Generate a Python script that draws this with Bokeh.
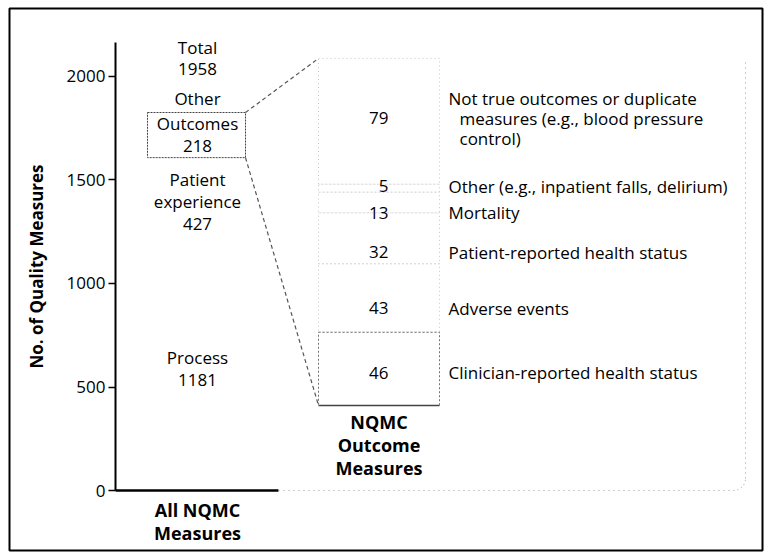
from bokeh.plotting import figure
from bokeh.models import Range1d, LinearAxis, FixedTicker, ColumnDataSource
from bokeh.core.properties import value
from bokeh.embed import file_html
from bokeh.resources import INLINE

# ---------------- data ----------------
all_categories = ["Process", "Patient\nexperience", "Outcomes", "Other"]
all_counts = [1181, 427, 218, 132]
all_show_count = [True, True, True, False]
total_label = "Total"

outcome_categories = [
    "Clinician-reported health status",
    "Adverse events",
    "Patient-reported health status",
    "Mortality",
    "Other (e.g., inpatient falls, delirium)",
    "Not true outcomes or duplicate\nmeasures (e.g., blood pressure\ncontrol)",
]
outcome_counts = [46, 43, 32, 13, 5, 79]
outcome_label_nudge = [4, 10, 14, 10, -2, -3]   # screen px, to keep labels apart

y_ticks = [0, 500, 1000, 1500, 2000]
column_titles = ["All NQMC\nMeasures", "NQMC\nOutcome\nMeasures"]
y_title = "No. of Quality Measures"

FONT = "Open Sans"

# ---------------- layout constants ----------------
W, H = 770, 559
AXIS_X = 115
LEFT_CX = 197          # centre of left column
BOX_L, BOX_R = 147, 245
RC_L, RC_R = 318, 439  # right column edges
RC_CX = (RC_L + RC_R) / 2
NUM_X = 388
LAB_X = 448
FRAME_R = 745
CORNER = 12

main_range = Range1d(-333.3, 2367.1)
sub_range = Range1d(-96.75, 254.4)
MAIN_PX = H / (main_range.end - main_range.start)


def sub_to_main(v):
    f = (v - sub_range.start) / (sub_range.end - sub_range.start)
    return main_range.start + f * (main_range.end - main_range.start)


def screen_to_main(py):
    return main_range.end - py / MAIN_PX


def explode(xs, ys, texts, dys, lh, indent=0):
    out = dict(x=[], y=[], text=[], dy=[], dx=[])
    for x, y, t, d in zip(xs, ys, texts, dys):
        lines = t.split("\n")
        n = len(lines)
        for i, line in enumerate(lines):
            out["x"].append(x)
            out["y"].append(y)
            out["text"].append(line)
            out["dy"].append(d + (i - (n - 1) / 2) * lh)
            out["dx"].append(indent if i > 0 else 0)
    return ColumnDataSource(out)


p = figure(width=W, height=H, output_backend="svg", toolbar_location=None,
           x_range=Range1d(0, W), y_range=main_range,
           x_axis_type=None, y_axis_type=None,
           min_border_left=0, min_border_right=0,
           min_border_top=0, min_border_bottom=0)
p.extra_y_ranges = {"sub": sub_range}
p.outline_line_color = None
p.background_fill_color = "white"
p.border_fill_color = "white"

ax = LinearAxis(ticker=FixedTicker(ticks=y_ticks), bounds=(0, 2164),
                axis_label=y_title, fixed_location=AXIS_X)
ax.axis_line_width = 2
ax.axis_line_color = "black"
ax.major_tick_out = 7
ax.major_tick_in = 0
ax.major_tick_line_width = 1.5
ax.minor_tick_out = 0
ax.minor_tick_in = 0
ax.major_label_standoff = 3
ax.major_label_text_font = FONT
ax.major_label_text_font_size = "17px"
ax.major_label_text_color = "black"
ax.axis_label_text_font = FONT
ax.axis_label_text_font_style = "bold"
ax.axis_label_text_font_size = "17px"
ax.axis_label_text_color = "black"
ax.axis_label_standoff = 16
p.add_layout(ax, "left")

TXT = dict(text_font=value(FONT), text_font_size="17px", text_color="black",
           text_baseline="middle")

# outer black border of the figure panel
p.quad(left=[9], right=[762], top=[screen_to_main(8)], bottom=[screen_to_main(550)],
       fill_color=None, line_color="black", line_width=2)

# ---------------- left column ----------------
bottoms, tops = [], []
acc = 0
for c in all_counts:
    bottoms.append(acc)
    acc += c
    tops.append(acc)
total = acc

# baseline
p.segment(x0=[AXIS_X], y0=[0], x1=[RC_L - 40], y1=[0], line_color="black", line_width=2.5)

left_txt = [f"{c}\n{n}" if s else c for c, n, s in zip(all_categories, all_counts, all_show_count)]
left_src = explode([LEFT_CX] * len(all_counts),
                   [(b + t) / 2 for b, t in zip(bottoms, tops)],
                   left_txt, [0] * len(all_counts), 22.5)
p.text(x="x", y="y", text="text", y_offset="dy", source=left_src,
       text_align="center", **TXT)
tot_src = explode([LEFT_CX], [total], [f"{total_label}\n{total}"], [-27], 22)
p.text(x="x", y="y", text="text", y_offset="dy", source=tot_src,
       text_align="center", **TXT)

# outcomes box
oi = all_categories.index("Outcomes")
p.quad(left=[BOX_L], right=[BOX_R], bottom=[bottoms[oi]], top=[tops[oi]],
       fill_color=None, line_color="#444444", line_dash="2 1", line_width=1)

# ---------------- right column ----------------
rb, rt = [], []
acc = 0
for c in outcome_counts:
    rb.append(acc)
    acc += c
    rt.append(acc)
sub_total = acc

p.quad(left=[RC_L] * len(rb), right=[RC_R] * len(rb), bottom=rb, top=rt,
       fill_color=None, line_color="#c8c8c8", line_dash="1 3", line_width=1,
       y_range_name="sub")
p.quad(left=[RC_L], right=[RC_R], bottom=[rb[0]], top=[rt[0]], fill_color=None,
       line_color="#777777", line_dash="2 2", line_width=1, y_range_name="sub")
p.segment(x0=[RC_L], y0=[0], x1=[RC_R], y1=[0], line_color="#444444",
          line_width=1.5, y_range_name="sub")

mids = [(b + t) / 2 for b, t in zip(rb, rt)]
num_src = ColumnDataSource(dict(x=[NUM_X] * len(rb), y=mids,
                                text=[str(n) for n in outcome_counts],
                                dy=outcome_label_nudge))
p.text(x="x", y="y", text="text", y_offset="dy", source=num_src, text_align="right",
       y_range_name="sub", **TXT)

lab_src = explode([LAB_X] * len(rb), mids, outcome_categories, outcome_label_nudge,
                  20, indent=11)
p.text(x="x", y="y", text="text", x_offset="dx", y_offset="dy", source=lab_src,
       text_align="left", y_range_name="sub", **TXT)

# connectors from the outcomes box to the expanded column
p.segment(x0=[BOX_R, BOX_R], y0=[tops[oi], bottoms[oi]],
          x1=[RC_L, RC_L], y1=[sub_to_main(sub_total), sub_to_main(0)],
          line_color="#555555", line_dash="4 3", line_width=1.2)

# faint rounded frame around the expansion
corner_y = CORNER / MAIN_PX
p.segment(x0=[RC_L - 40], y0=[0], x1=[FRAME_R - CORNER], y1=[0],
          line_color="#9a9a9a", line_dash="1 4", line_width=1)
p.segment(x0=[FRAME_R], y0=[corner_y], x1=[FRAME_R], y1=[sub_to_main(sub_total)],
          line_color="#9a9a9a", line_dash="1 4", line_width=1)
p.arc(x=[FRAME_R - CORNER], y=[corner_y], radius=CORNER, radius_units="screen",
      start_angle=-1.5708, end_angle=0, line_color="#9a9a9a", line_dash="1 3",
      line_width=1)

# column titles
BOLD = dict(text_font=value(FONT), text_font_style="bold", text_font_size="18px",
            text_color="black", text_baseline="middle", text_align="center")
t1 = explode([LEFT_CX], [0], [column_titles[0]], [31], 22.5)
p.text(x="x", y="y", text="text", y_offset="dy", source=t1, **BOLD)
t2 = explode([RC_CX], [0], [column_titles[1]], [40], 23)
p.text(x="x", y="y", text="text", y_offset="dy", source=t2, y_range_name="sub", **BOLD)

open("out.html", "w").write(file_html(p, INLINE))
